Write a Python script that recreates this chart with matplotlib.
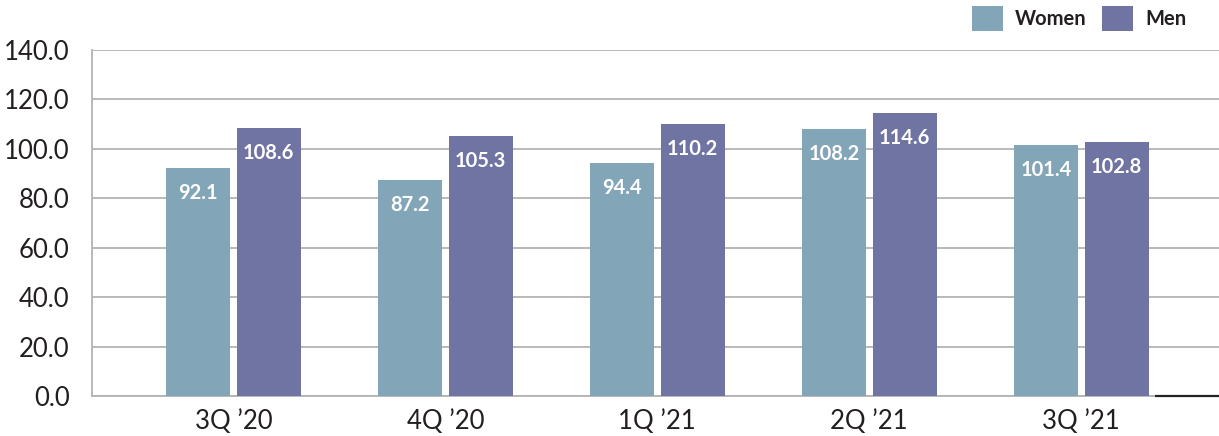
import matplotlib
matplotlib.use("Agg")
import matplotlib.pyplot as plt
import numpy as np
from matplotlib.patches import Patch

categories = ["3Q \u201920", "4Q \u201920", "1Q \u201921", "2Q \u201921", "3Q \u201921"]
women = [92.1, 87.2, 94.4, 108.2, 101.4]
men = [108.6, 105.3, 110.2, 114.6, 102.8]
yticks = [0, 20, 40, 60, 80, 100, 120, 140]

women_color = "#82A5B8"
men_color = "#7074A3"
grid_color = "#B3B3B3"
text_color = "#231F20"

plt.rcParams["font.family"] = ["Lato", "DejaVu Sans"]

fig = plt.figure(figsize=(12.19, 4.36), dpi=100)
ax = fig.add_axes([92 / 1219, 40 / 436, 1 - 92 / 1219, 346 / 436])

x = np.arange(len(categories))
width = 0.302
off = 0.167
bw = ax.bar(x - off, women, width, color=women_color, zorder=3)
bm = ax.bar(x + off, men, width, color=men_color, zorder=3)

for bars, vals in ((bw, women), (bm, men)):
    for b, v in zip(bars, vals):
        ax.annotate(f"{v:.1f}", (b.get_x() + b.get_width() / 2, v),
                    xytext=(0, -25), textcoords="offset pixels",
                    ha="center", va="center", color="white",
                    fontsize=14.5, fontweight="bold", zorder=4)

ax.set_ylim(0, 140)
ax.set_xlim(-0.667, 4.65)
ax.set_yticks(yticks)
ax.set_yticklabels([f"{t:.1f}" for t in yticks])
ax.set_xticks(x)
ax.set_xticklabels(categories)
ax.yaxis.grid(True, color=grid_color, linewidth=1.3, zorder=0)
ax.set_axisbelow(True)
ax.tick_params(axis="both", length=0, labelsize=18.5, colors=text_color)
ax.tick_params(axis="y", pad=16)
ax.tick_params(axis="x", pad=9)
for s in ("top", "right"):
    ax.spines[s].set_visible(False)
ax.spines["left"].set_color(grid_color)
ax.spines["left"].set_linewidth(1.3)
ax.spines["bottom"].set_color(grid_color)
ax.spines["bottom"].set_linewidth(1.3)

# dark baseline segment at the right end of the axis
ax.plot([4.347, 4.65], [0, 0], color="#222222", linewidth=1.6, zorder=5,
        clip_on=False, solid_capstyle="butt")

handles = [Patch(facecolor=women_color, label="Women"),
           Patch(facecolor=men_color, label="Men")]
fig.legend(handles=handles, loc="upper left", bbox_to_anchor=(972 / 1219, 1 - 6 / 436),
           ncol=2, frameon=False, borderpad=0, borderaxespad=0,
           handlelength=1.55, handleheight=1.55,
           handletextpad=0.6, columnspacing=0.75,
           prop={"size": 14.5, "weight": "bold"}, labelcolor=text_color)

fig.savefig("out.png", dpi=100)
